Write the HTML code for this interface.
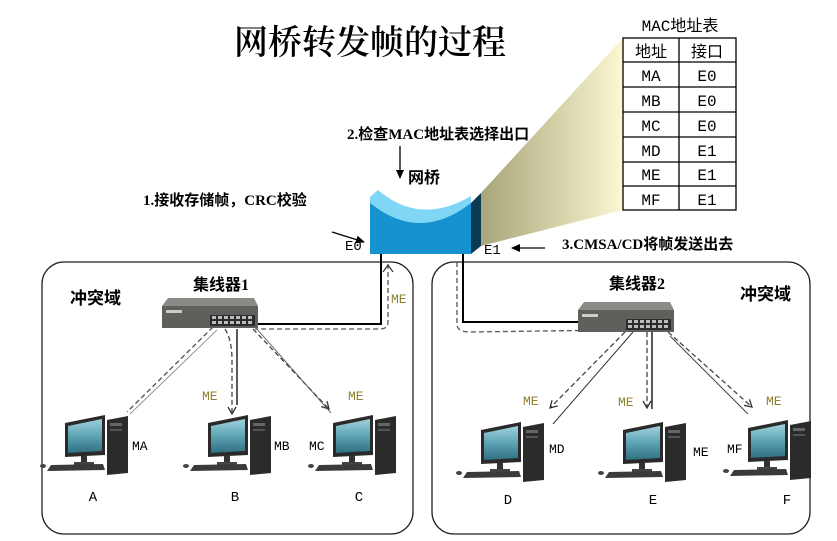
<!DOCTYPE html>
<html><head><meta charset="utf-8"><style>
body{margin:0;background:#fff;width:837px;height:541px;overflow:hidden}
svg{display:block}
.t{font-family:"Liberation Serif","Noto Serif CJK SC",serif}
.b{font-family:"Liberation Serif","Noto Sans CJK SC",sans-serif;font-weight:bold}
.m{font-family:"Liberation Mono","Noto Sans CJK SC",monospace}
</style></head><body>
<svg width="837" height="541" viewBox="0 0 837 541">
<defs>
<linearGradient id="yg" x1="1" y1="0" x2="0" y2="0">
<stop offset="0" stop-color="#fbf8d2"/><stop offset="1" stop-color="#a8a57a"/></linearGradient>
<linearGradient id="scr" x1="0" y1="0" x2="0" y2="1">
<stop offset="0" stop-color="#9fd2dc"/><stop offset="0.5" stop-color="#5ea3b3"/><stop offset="1" stop-color="#2f6f80"/></linearGradient>
<marker id="ah" markerWidth="10" markerHeight="10" refX="8" refY="5" orient="auto" markerUnits="userSpaceOnUse"><path d="M1,1 L8,5 L1,9" fill="none" stroke="#333" stroke-width="1.3"/></marker>
<marker id="ab" markerWidth="10" markerHeight="10" refX="8" refY="5" orient="auto" markerUnits="userSpaceOnUse"><path d="M0,1 L9,5 L0,9 Z" fill="#000"/></marker>
<symbol id="pc" overflow="visible">
<polygon points="18,10 58,2 58,42 18,44" fill="#2a2a2a"/>
<polygon points="21,13 55,6 55,38 21,40" fill="url(#scr)"/>
<rect x="34" y="43" width="6" height="7" fill="#333"/>
<rect x="27" y="49" width="20" height="3" fill="#444"/>
<polygon points="60,7 81,3 81,60 60,62" fill="#2b2b2b"/>
<rect x="63" y="10" width="12" height="3" fill="#666"/>
<rect x="63" y="16" width="12" height="2" fill="#555"/>
<polygon points="4,52 56,51 58,57 0,58" fill="#3a3a3a"/>
<ellipse cx="-4" cy="53" rx="3" ry="2" fill="#444"/>
</symbol>
<symbol id="hub" overflow="visible">
<polygon points="6,0 92,0 96,8 0,8" fill="#8a8a86"/>
<rect x="0" y="8" width="96" height="22" fill="#5f605c"/>
<rect x="4" y="12" width="16" height="3" fill="#ccc"/>
<rect x="48" y="17" width="45" height="11" fill="#2c2c2c"/>
<g fill="#bbb"><rect x="50" y="18" width="4" height="3"/><rect x="56" y="18" width="4" height="3"/><rect x="62" y="18" width="4" height="3"/><rect x="68" y="18" width="4" height="3"/><rect x="74" y="18" width="4" height="3"/><rect x="80" y="18" width="4" height="3"/><rect x="86" y="18" width="4" height="3"/>
<rect x="50" y="23" width="4" height="3"/><rect x="56" y="23" width="4" height="3"/><rect x="62" y="23" width="4" height="3"/><rect x="68" y="23" width="4" height="3"/><rect x="74" y="23" width="4" height="3"/><rect x="80" y="23" width="4" height="3"/><rect x="86" y="23" width="4" height="3"/></g>
</symbol>
</defs>

<text x="370" y="54" class="t" font-size="34" font-weight="600" text-anchor="middle" fill="#000">网桥转发帧的过程</text>

<polygon points="623,38 623,210 481,246 481,193" fill="url(#yg)"/>

<text x="680" y="31" class="m" font-size="16" text-anchor="middle">MAC地址表</text>
<g stroke="#000" stroke-width="1.3" fill="none">
<rect x="623" y="38" width="113" height="172" fill="#fff"/>
<line x1="679" y1="38" x2="679" y2="210"/>
<line x1="623" y1="62" x2="736" y2="62"/><line x1="623" y1="87" x2="736" y2="87"/>
<line x1="623" y1="112" x2="736" y2="112"/><line x1="623" y1="137" x2="736" y2="137"/>
<line x1="623" y1="162" x2="736" y2="162"/><line x1="623" y1="186" x2="736" y2="186"/>
</g>
<g class="m" font-size="16" text-anchor="middle">
<text x="651" y="57">地址</text><text x="707" y="57">接口</text>
<text x="651" y="81">MA</text><text x="707" y="81">E0</text>
<text x="651" y="106">MB</text><text x="707" y="106">E0</text>
<text x="651" y="131">MC</text><text x="707" y="131">E0</text>
<text x="651" y="156">MD</text><text x="707" y="156">E1</text>
<text x="651" y="180">ME</text><text x="707" y="180">E1</text>
<text x="651" y="205">MF</text><text x="707" y="205">E1</text>
</g>

<text x="347" y="139" class="b" font-size="15">2.检查MAC地址表选择出口</text>
<line x1="400" y1="146" x2="400" y2="178" stroke="#000" stroke-width="1.3" marker-end="url(#ab)"/>
<text x="408" y="183" class="b" font-size="16">网桥</text>
<text x="143" y="205" class="b" font-size="15">1.接收存储帧，CRC校验</text>
<line x1="332" y1="232" x2="364" y2="242" stroke="#000" stroke-width="1.3" marker-end="url(#ab)"/>
<text x="345" y="250" class="m" font-size="14">E0</text>
<text x="484" y="254" class="m" font-size="14">E1</text>
<line x1="545" y1="248" x2="512" y2="248" stroke="#000" stroke-width="1.3" marker-end="url(#ab)"/>
<text x="562" y="249" class="b" font-size="15">3.CMSA/CD将帧发送出去</text>

<polygon points="471,203 481,193 481,246 471,254" fill="#0b3a55"/>
<path d="M370,197 Q420,240 471,200 L471,254 L370,254 Z" fill="#1592cf"/>
<path d="M370,197 L378,190 Q420,226 471,196 L471,203 Q420,243 370,203 Z" fill="#7fd6f5"/>

<rect x="42" y="262" width="371" height="272" rx="22" fill="none" stroke="#222" stroke-width="1.3"/>
<rect x="432" y="262" width="378" height="272" rx="22" fill="none" stroke="#222" stroke-width="1.3"/>

<polyline points="381,254 381,324 255,324" fill="none" stroke="#000" stroke-width="2"/>
<path d="M388,264 L388,322 Q388,329 380,329 L255,329" fill="none" stroke="#555" stroke-width="1.3" stroke-dasharray="5,3"/>
<path d="M388,265 L383,272 M388,265 L393,272" stroke="#333" stroke-width="1.2"/>
<polyline points="463,254 463,322 615,322" fill="none" stroke="#000" stroke-width="2"/>
<path d="M457,262 L457,324 Q457,332 470,332 L615,330" fill="none" stroke="#555" stroke-width="1.3" stroke-dasharray="5,3"/>

<use href="#hub" x="162" y="298"/>
<text x="193" y="290" class="b" font-size="16">集线器1</text>
<text x="70" y="304" class="b" font-size="17">冲突域</text>
<use href="#hub" x="578" y="302"/>
<text x="609" y="289" class="b" font-size="16">集线器2</text>
<text x="740" y="300" class="b" font-size="17">冲突域</text>

<line x1="213" y1="327" x2="127" y2="412" stroke="#555" stroke-width="1.3" stroke-dasharray="5,3"/>
<line x1="217" y1="330" x2="130" y2="414" stroke="#777" stroke-width="0.8"/>
<path d="M225,329 Q232,340 232,360 L232,414" fill="none" stroke="#444" stroke-width="1.3" stroke-dasharray="5,3" marker-end="url(#ah)"/>
<line x1="237" y1="329" x2="237" y2="405" stroke="#000" stroke-width="1.3"/>
<line x1="253" y1="329" x2="329" y2="409" stroke="#444" stroke-width="1.3" stroke-dasharray="5,3" marker-end="url(#ah)"/>
<line x1="256" y1="328" x2="331" y2="413" stroke="#555" stroke-width="0.9"/>

<line x1="625" y1="332" x2="550" y2="408" stroke="#444" stroke-width="1.3" stroke-dasharray="5,3" marker-end="url(#ah)"/>
<line x1="633" y1="332" x2="553" y2="424" stroke="#333" stroke-width="1"/>
<line x1="647" y1="332" x2="647" y2="408" stroke="#444" stroke-width="1.3" stroke-dasharray="5,3" marker-end="url(#ah)"/>
<line x1="652" y1="332" x2="652" y2="409" stroke="#000" stroke-width="1.3"/>
<line x1="668" y1="332" x2="752" y2="407" stroke="#444" stroke-width="1.3" stroke-dasharray="5,3" marker-end="url(#ah)"/>
<line x1="670" y1="336" x2="748" y2="414" stroke="#444" stroke-width="1"/>

<g class="m" font-size="13" fill="#8f7f2e">
<text x="391" y="303">ME</text>
<text x="202" y="400">ME</text>
<text x="348" y="400">ME</text>
<text x="523" y="405">ME</text>
<text x="618" y="406">ME</text>
<text x="766" y="405">ME</text>
</g>

<use href="#pc" x="47" y="413"/>
<use href="#pc" x="190" y="413"/>
<use href="#pc" x="315" y="413"/>
<use href="#pc" x="463" y="420"/>
<use href="#pc" x="605" y="420"/>
<use href="#pc" x="730" y="418"/>

<g class="m" font-size="13">
<text x="132" y="450">MA</text>
<text x="274" y="450">MB</text>
<text x="309" y="450">MC</text>
<text x="549" y="453">MD</text>
<text x="693" y="456">ME</text>
<text x="727" y="453">MF</text>
</g>
<g class="m" font-size="14" text-anchor="middle">
<text x="93" y="501">A</text><text x="235" y="501">B</text><text x="359" y="501">C</text>
<text x="508" y="504">D</text><text x="653" y="504">E</text><text x="787" y="504">F</text>
</g>
</svg>
</body></html>
